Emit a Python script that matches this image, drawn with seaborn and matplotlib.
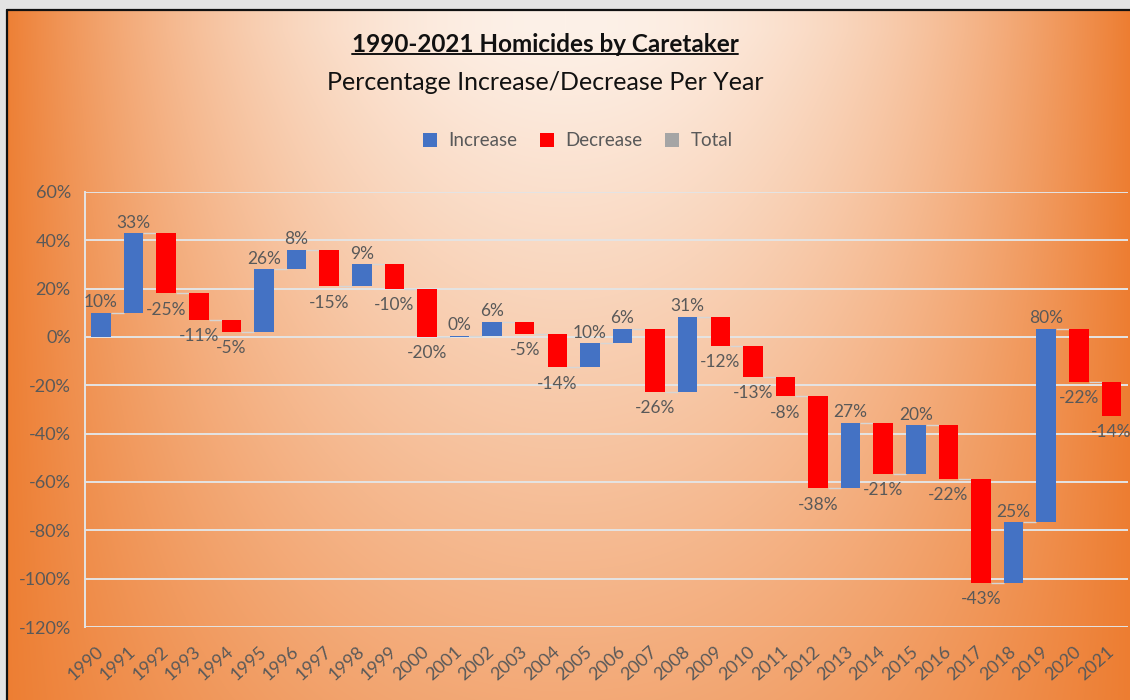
import numpy as np
import pandas as pd
import matplotlib
matplotlib.use("Agg")
import matplotlib.pyplot as plt
from matplotlib.patches import Patch
from matplotlib.lines import Line2D
import seaborn as sns

# ---- data -------------------------------------------------------------
years = [str(y) for y in range(1990, 2022)]
changes = [10, 33, -25, -11, -5, 26, 8, -15, 9, -10,
           -20, 0.4, 6, -5, -14, 10, 6, -26, 31, -12,
           -13, -8, -38, 27, -21, 20, -22, -43, 25, 80,
           -22, -14]
legend_labels = ["Increase", "Decrease", "Total"]
y_ticks = [-120, -100, -80, -60, -40, -20, 0, 20, 40, 60]

title = "1990-2021 Homicides by Caretaker"
subtitle = "Percentage Increase/Decrease Per Year"

# ---- styling ----------------------------------------------------------
BLUE = "#4472C4"
RED = "#FF0000"
GRAY = "#A5A5A5"
TEXT = "#595959"
GRID = "#E4E4E4"

sns.set_theme(style="white")
plt.rcParams["font.family"] = ["Lato", "DejaVu Sans"]

W, H = 1130, 700
fig = plt.figure(figsize=(W / 100, H / 100), dpi=100)
fig.patch.set_facecolor("#E3E3E3")

# orange backdrop: light at the top centre, deepening towards the sides and bottom
x0_px, top_px = 7, 10
bg = fig.add_axes([x0_px / W, 0, 1 - x0_px / W, (H - top_px) / H])
gw, gh = W - x0_px, H - top_px
xx, yy = np.meshgrid(np.arange(gw) + x0_px, np.arange(gh) + top_px)
dx = np.clip(np.abs(xx - 565) / 565, 0, 1)
fx = dx ** 2.0
fy = np.clip((yy - 30) / 1080, 0, 1)
r = 1 - (1 - fx) * (1 - fy)
light = np.array([253, 241, 232]) / 255
orange = np.array([237, 125, 49]) / 255
img = light[None, None, :] + (orange - light)[None, None, :] * r[..., None]
bg.imshow(img, aspect="auto", interpolation="bilinear")
bg.set_axis_off()
fig.add_artist(Line2D([x0_px / W, x0_px / W], [0, (H - top_px) / H],
                      transform=fig.transFigure, color="#111111", lw=1.6))
fig.add_artist(Line2D([x0_px / W, 1], [(H - top_px) / H, (H - top_px) / H],
                      transform=fig.transFigure, color="#111111", lw=1.6))

# ---- waterfall --------------------------------------------------------
chg = np.array(changes, dtype=float)
end = np.cumsum(chg)
start = end - chg
df = pd.DataFrame({
    "year": years,
    "change": chg,
    "start": start,
    "end": end,
    "kind": np.where(chg >= 0, "Increase", "Decrease"),
})

ax = fig.add_axes([84.7 / W, (H - 627) / H, 1043 / W, (627 - 192) / H])
ax.patch.set_alpha(0)

for kind, color in [("Increase", BLUE), ("Decrease", RED)]:
    sub = df[df["kind"] == kind]
    sns.barplot(data=sub, x="year", y="change", order=years, color=color,
                saturation=1, width=0.6, errorbar=None, linewidth=0,
                edgecolor=color, bottom=sub["start"].to_numpy(), ax=ax, zorder=3)

# connector lines between consecutive bars
pos = np.arange(len(years))
ax.hlines(end[:-1], pos[:-1] + 0.3, pos[1:] - 0.3, color="#D6D6D6", lw=1.0, zorder=2)

# value labels
for i, (c, e) in enumerate(zip(chg, end)):
    label = f"{c:.0f}%"
    if c >= 0:
        ax.annotate(label, (i, e), xytext=(0, 4), textcoords="offset points",
                    ha="center", va="baseline", fontsize=12.5, color=TEXT, zorder=4)
    else:
        ax.annotate(label, (i, e), xytext=(0, -6), textcoords="offset points",
                    ha="center", va="top", fontsize=12.5, color=TEXT, zorder=4)

ax.set_xlim(-0.5, len(years) - 0.5)
ax.set_ylim(y_ticks[0], y_ticks[-1])
ax.set_yticks(y_ticks)
ax.set_yticklabels([f"{v}%" for v in y_ticks])
ax.yaxis.grid(True, color=GRID, lw=1.4, zorder=0)
ax.xaxis.grid(False)
ax.set_axisbelow(True)
for side in ["top", "right", "bottom"]:
    ax.spines[side].set_visible(False)
ax.spines["left"].set_color(GRID)
ax.spines["left"].set_linewidth(1.4)
ax.set_xlabel("")
ax.set_ylabel("")
ax.tick_params(axis="y", length=0, pad=10, labelsize=13, labelcolor=TEXT)
ax.tick_params(axis="x", length=0, pad=16, labelsize=13, labelcolor=TEXT)
for lab in ax.get_xticklabels():
    lab.set_rotation(42)
    lab.set_ha("right")
    lab.set_va("center")
    lab.set_rotation_mode("anchor")

# ---- titles -----------------------------------------------------------
t = fig.text(545 / W, 1 - 45 / H, title, ha="center", va="center",
             fontsize=17.5, fontweight="bold", color="#111111")
fig.text(545 / W, 1 - 82 / H, subtitle, ha="center", va="center",
         fontsize=18, color="#111111")
fig.canvas.draw()
bb = t.get_window_extent().transformed(fig.transFigure.inverted())
uy = bb.y0 + 0.004
fig.add_artist(Line2D([bb.x0, bb.x1], [uy, uy], transform=fig.transFigure,
                      color="#111111", lw=1.4))

# ---- legend -----------------------------------------------------------
handles = [Patch(facecolor=c, edgecolor="none") for c in (BLUE, RED, GRAY)]
fig.legend(handles, legend_labels, loc="center",
           bbox_to_anchor=(578 / W, 1 - 141 / H), ncol=3, frameon=False,
           handlelength=0.75, handleheight=0.75, handletextpad=0.6,
           columnspacing=1.2, fontsize=13.5, labelcolor=TEXT)

fig.savefig("out.png", dpi=100)
